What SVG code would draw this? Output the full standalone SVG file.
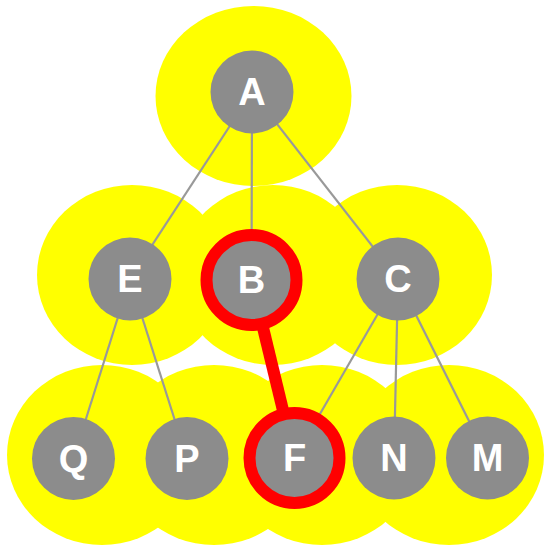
<svg xmlns="http://www.w3.org/2000/svg" width="547" height="546" viewBox="0 0 547 546">
<style>
.halo{fill:#ffff00;stroke:none}
.edge{stroke:#999999;stroke-width:2.2;fill:none}
.sel-edge{stroke:#ff0000;stroke-width:12;fill:none}
.node{fill:#8c8c8c}
.sel{fill:#8c8c8c;stroke:#ff0000;stroke-width:12}
.lbl{fill:#ffffff;font-family:"Liberation Sans",Arial,sans-serif;font-weight:bold;font-size:38px;text-anchor:middle}
</style>
<rect width="547" height="546" fill="#ffffff"/>
<g id="halos">
<ellipse class="halo" cx="253.5" cy="96" rx="98" ry="90"/>
<ellipse class="halo" cx="132" cy="275" rx="95" ry="90"/>
<ellipse class="halo" cx="273" cy="275" rx="95" ry="90"/>
<ellipse class="halo" cx="397" cy="275" rx="95" ry="90"/>
<ellipse class="halo" cx="102" cy="455" rx="95" ry="90"/>
<ellipse class="halo" cx="214" cy="455" rx="95" ry="90"/>
<ellipse class="halo" cx="322" cy="455" rx="95" ry="90"/>
<ellipse class="halo" cx="449" cy="455" rx="95" ry="90"/>
</g>
<g id="connectors">
<line class="edge" x1="252" y1="92" x2="130" y2="279"/>
<line class="edge" x1="252" y1="92" x2="251.5" y2="280"/>
<line class="edge" x1="252" y1="92" x2="398" y2="279"/>
<line class="edge" x1="130" y1="279" x2="73.5" y2="458.5"/>
<line class="edge" x1="130" y1="279" x2="187" y2="458.5"/>
<line class="edge" x1="398" y1="279" x2="294.5" y2="458"/>
<line class="edge" x1="398" y1="279" x2="394" y2="458"/>
<line class="edge" x1="398" y1="279" x2="487.5" y2="458"/>
<line class="sel-edge" x1="251.5" y1="280" x2="294.5" y2="458"/>
</g>
<g id="node-A"><circle class="node" cx="252" cy="92" r="41.5"/><text class="lbl" x="252" y="105">A</text></g>
<g id="node-E"><circle class="node" cx="130" cy="279" r="41.5"/><text class="lbl" x="130" y="292">E</text></g>
<g id="node-B"><circle class="sel" cx="251.5" cy="280" r="45"/><text class="lbl" x="251.5" y="293">B</text></g>
<g id="node-C"><circle class="node" cx="398" cy="279" r="41.5"/><text class="lbl" x="398" y="292">C</text></g>
<g id="node-Q"><circle class="node" cx="73.5" cy="458.5" r="41.5"/><text class="lbl" x="73.5" y="471.5">Q</text></g>
<g id="node-P"><circle class="node" cx="187" cy="458.5" r="41.5"/><text class="lbl" x="187" y="471.5">P</text></g>
<g id="node-F"><circle class="sel" cx="294.5" cy="458" r="45"/><text class="lbl" x="294.5" y="471">F</text></g>
<g id="node-N"><circle class="node" cx="394" cy="458" r="41.5"/><text class="lbl" x="394" y="471">N</text></g>
<g id="node-M"><circle class="node" cx="487.5" cy="458" r="41.5"/><text class="lbl" x="487.5" y="471">M</text></g>
</svg>
